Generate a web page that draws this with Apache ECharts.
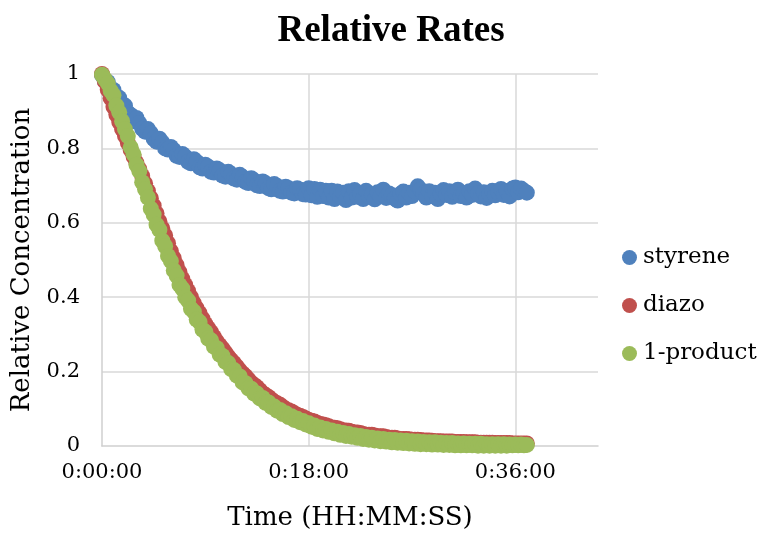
<!DOCTYPE html>
<html>
<head>
<meta charset="utf-8">
<script src="https://cdn.jsdelivr.net/npm/echarts@6/dist/echarts.min.js"></script>
<style>
  html, body { margin: 0; padding: 0; background: #ffffff; }
  #chart { width: 768px; height: 536px; }
</style>
</head>
<body>
<div id="chart"></div>
<script>
// Sample times in minutes since the start of the run (every 15 s)
const minutes = [
  0, 0.25, 0.5, 0.75, 1, 1.25, 1.5, 1.75,
  2, 2.25, 2.5, 2.75, 3, 3.25, 3.5, 3.75,
  4, 4.25, 4.5, 4.75, 5, 5.25, 5.5, 5.75,
  6, 6.25, 6.5, 6.75, 7, 7.25, 7.5, 7.75,
  8, 8.25, 8.5, 8.75, 9, 9.25, 9.5, 9.75,
  10, 10.25, 10.5, 10.75, 11, 11.25, 11.5, 11.75,
  12, 12.25, 12.5, 12.75, 13, 13.25, 13.5, 13.75,
  14, 14.25, 14.5, 14.75, 15, 15.25, 15.5, 15.75,
  16, 16.25, 16.5, 16.75, 17, 17.25, 17.5, 17.75,
  18, 18.25, 18.5, 18.75, 19, 19.25, 19.5, 19.75,
  20, 20.25, 20.5, 20.75, 21, 21.25, 21.5, 21.75,
  22, 22.25, 22.5, 22.75, 23, 23.25, 23.5, 23.75,
  24, 24.25, 24.5, 24.75, 25, 25.25, 25.5, 25.75,
  26, 26.25, 26.5, 26.75, 27, 27.25, 27.5, 27.75,
  28, 28.25, 28.5, 28.75, 29, 29.25, 29.5, 29.75,
  30, 30.25, 30.5, 30.75, 31, 31.25, 31.5, 31.75,
  32, 32.25, 32.5, 32.75, 33, 33.25, 33.5, 33.75,
  34, 34.25, 34.5, 34.75, 35, 35.25, 35.5, 35.75,
  36, 36.25, 36.5, 36.75, 37
];

const styrene = [
  0.997, 0.981, 0.979, 0.955, 0.957, 0.932, 0.936, 0.910,
  0.915, 0.896, 0.890, 0.873, 0.882, 0.868, 0.853, 0.845,
  0.852, 0.841, 0.826, 0.818, 0.826, 0.816, 0.800, 0.797,
  0.804, 0.795, 0.780, 0.777, 0.785, 0.778, 0.764, 0.760,
  0.771, 0.764, 0.749, 0.746, 0.756, 0.751, 0.737, 0.735,
  0.746, 0.741, 0.727, 0.724, 0.737, 0.731, 0.719, 0.716,
  0.729, 0.723, 0.710, 0.707, 0.720, 0.714, 0.701, 0.699,
  0.711, 0.706, 0.693, 0.690, 0.704, 0.699, 0.686, 0.684,
  0.697, 0.693, 0.681, 0.679, 0.693, 0.689, 0.677, 0.676,
  0.693, 0.674, 0.691, 0.670, 0.689, 0.672, 0.686, 0.668,
  0.686, 0.664, 0.684, 0.671, 0.681, 0.661, 0.685, 0.668,
  0.688, 0.670, 0.679, 0.664, 0.686, 0.672, 0.677, 0.663,
  0.682, 0.671, 0.689, 0.667, 0.679, 0.674, 0.665, 0.660,
  0.678, 0.684, 0.668, 0.681, 0.672, 0.685, 0.698, 0.689,
  0.678, 0.668, 0.685, 0.672, 0.681, 0.664, 0.678, 0.688,
  0.675, 0.685, 0.670, 0.682, 0.689, 0.672, 0.679, 0.668,
  0.685, 0.675, 0.692, 0.679, 0.671, 0.682, 0.667, 0.677,
  0.686, 0.674, 0.682, 0.691, 0.675, 0.685, 0.671, 0.692,
  0.695, 0.682, 0.692, 0.686, 0.681
];

const diazo = [
  1.000, 0.980, 0.958, 0.935, 0.912, 0.891, 0.871, 0.852,
  0.834, 0.815, 0.796, 0.778, 0.761, 0.744, 0.726, 0.706,
  0.686, 0.666, 0.646, 0.625, 0.604, 0.585, 0.566, 0.545,
  0.524, 0.505, 0.486, 0.467, 0.449, 0.433, 0.417, 0.400,
  0.384, 0.370, 0.357, 0.342, 0.328, 0.317, 0.306, 0.293,
  0.281, 0.271, 0.262, 0.251, 0.240, 0.231, 0.223, 0.213,
  0.203, 0.195, 0.188, 0.179, 0.170, 0.164, 0.158, 0.150,
  0.142, 0.137, 0.132, 0.125, 0.119, 0.115, 0.111, 0.105,
  0.099, 0.096, 0.093, 0.088, 0.083, 0.081, 0.078, 0.074,
  0.070, 0.068, 0.066, 0.062, 0.059, 0.058, 0.056, 0.053,
  0.050, 0.049, 0.048, 0.045, 0.042, 0.042, 0.041, 0.038,
  0.036, 0.036, 0.035, 0.032, 0.030, 0.030, 0.030, 0.028,
  0.026, 0.026, 0.026, 0.024, 0.022, 0.022, 0.022, 0.020,
  0.019, 0.019, 0.019, 0.018, 0.017, 0.017, 0.017, 0.016,
  0.015, 0.015, 0.015, 0.014, 0.013, 0.013, 0.013, 0.012,
  0.012, 0.012, 0.012, 0.011, 0.011, 0.011, 0.011, 0.010,
  0.010, 0.010, 0.010, 0.009, 0.009, 0.009, 0.009, 0.009,
  0.009, 0.008, 0.008, 0.008, 0.008, 0.008, 0.008, 0.007,
  0.007, 0.007, 0.007, 0.007, 0.007
];

const product = [
  0.998, 0.986, 0.975, 0.955, 0.943, 0.915, 0.897, 0.873,
  0.852, 0.833, 0.803, 0.784, 0.756, 0.739, 0.709, 0.690,
  0.668, 0.638, 0.622, 0.595, 0.581, 0.552, 0.537, 0.511,
  0.497, 0.472, 0.458, 0.433, 0.423, 0.400, 0.391, 0.369,
  0.361, 0.340, 0.333, 0.313, 0.307, 0.289, 0.284, 0.267,
  0.263, 0.246, 0.242, 0.226, 0.223, 0.207, 0.204, 0.189,
  0.187, 0.171, 0.169, 0.155, 0.154, 0.141, 0.141, 0.128,
  0.129, 0.116, 0.117, 0.105, 0.106, 0.095, 0.097, 0.086,
  0.088, 0.078, 0.080, 0.070, 0.073, 0.064, 0.067, 0.058,
  0.061, 0.052, 0.055, 0.046, 0.050, 0.042, 0.046, 0.038,
  0.042, 0.034, 0.038, 0.030, 0.035, 0.027, 0.032, 0.025,
  0.029, 0.022, 0.027, 0.019, 0.024, 0.017, 0.022, 0.015,
  0.020, 0.013, 0.019, 0.012, 0.017, 0.010, 0.016, 0.009,
  0.015, 0.008, 0.014, 0.007, 0.013, 0.006, 0.012, 0.005,
  0.011, 0.005, 0.010, 0.004, 0.010, 0.004, 0.009, 0.003,
  0.008, 0.003, 0.008, 0.002, 0.007, 0.002, 0.007, 0.002,
  0.006, 0.002, 0.006, 0.001, 0.006, 0.001, 0.005, 0.001,
  0.005, 0.001, 0.005, 0.001, 0.005, 0.001, 0.004, 0.002,
  0.004, 0.002, 0.004, 0.002, 0.003
];

const seriesNames = ['styrene', 'diazo', '1-product'];
const seriesColors = ['#4F81BD', '#C0504D', '#9BBB59'];

function pairs(ys) {
  return minutes.map((m, i) => [m, ys[i]]);
}

// minutes -> H:MM:SS
function hms(m) {
  const total = Math.round(m * 60);
  const h = Math.floor(total / 3600);
  const mm = Math.floor((total % 3600) / 60);
  const ss = total % 60;
  return h + ':' + String(mm).padStart(2, '0') + ':' + String(ss).padStart(2, '0');
}

const serif = '"DejaVu Serif", "Liberation Serif", serif';
const chart = echarts.init(document.getElementById('chart'), null, { renderer: 'canvas' });

chart.setOption({
  animation: false,
  backgroundColor: '#ffffff',
  title: {
    text: 'Relative Rates',
    left: 386,
    textAlign: 'center',
    top: 8,
    textStyle: {
      fontFamily: '"Liberation Serif", serif',
      fontWeight: 'bold',
      fontSize: 37,
      color: '#000000'
    }
  },
  legend: {
    orient: 'vertical',
    left: 617,
    top: 240,
    itemWidth: 15,
    itemHeight: 15,
    itemGap: 23,
    icon: 'circle',
    data: seriesNames,
    textStyle: {
      fontFamily: serif,
      fontSize: 23,
      lineHeight: 25,
      color: '#000000',
      padding: [0, 0, 0, 1]
    }
  },
  grid: { left: 102, right: 170, top: 74, bottom: 89 },
  xAxis: {
    type: 'value',
    min: 0,
    max: 43.2,
    interval: 18,
    name: 'Time (HH:MM:SS)',
    nameLocation: 'middle',
    nameGap: 59,
    nameTextStyle: { fontFamily: serif, fontSize: 26, color: '#000000' },
    axisLine: { show: true, lineStyle: { color: '#CFCFCF', width: 1.5 } },
    axisTick: { show: false },
    axisLabel: {
      showMaxLabel: false,
      margin: 16,
      fontFamily: serif,
      fontSize: 21,
      color: '#000000',
      formatter: hms
    },
    splitLine: {
      show: true,
      showMinLine: false,
      showMaxLine: false,
      lineStyle: { color: '#D9D9D9', width: 1.5 }
    }
  },
  yAxis: {
    type: 'value',
    min: 0,
    max: 1,
    interval: 0.2,
    name: 'Relative Concentration',
    nameLocation: 'middle',
    nameGap: 61,
    nameTextStyle: { fontFamily: serif, fontSize: 26, color: '#000000' },
    axisLine: { show: true, lineStyle: { color: '#CFCFCF', width: 1.5 } },
    axisTick: { show: false },
    axisLabel: {
      margin: 22,
      fontFamily: serif,
      fontSize: 21,
      color: '#000000'
    },
    splitLine: {
      show: true,
      showMinLine: false,
      lineStyle: { color: '#D9D9D9', width: 1.5 }
    }
  },
  series: [styrene, diazo, product].map((ys, i) => ({
    name: seriesNames[i],
    type: 'scatter',
    symbol: 'circle',
    symbolSize: 16,
    itemStyle: { color: seriesColors[i], opacity: 1 },
    emphasis: { disabled: true },
    data: pairs(ys)
  }))
});
</script>
</body>
</html>
